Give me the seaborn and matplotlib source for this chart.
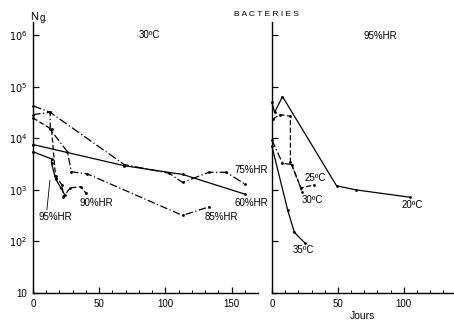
import matplotlib

matplotlib.use("Agg")
import matplotlib.pyplot as plt
import seaborn as sns
import pandas as pd

# left panel : 30 C, several humidities (x = days, y = bacteria per g)
hr95_x = [0, 14, 14, 17, 21, 24]
hr95_y = [5500, 4000, 3300, 1650, 1100, 800]
hr90_x = [0, 14, 17, 22, 23, 28, 36, 40]
hr90_y = [25000, 15000, 1850, 1250, 720, 1100, 1150, 870]
hr85_x = [0, 13, 13, 26, 29, 41, 113, 133]
hr85_y = [29000, 32000, 15000, 5500, 2250, 2050, 320, 470]
hr75_x = [0, 13, 69, 103, 113, 133, 146, 160]
hr75_y = [43000, 32000, 3100, 2100, 1400, 2200, 2200, 1300]
hr60_x = [0, 69, 113, 160]
hr60_y = [7600, 2950, 2000, 830]

# right panel : 95 %HR, several temperatures
t20_x = [0, 2, 8, 49, 64, 105]
t20_y = [50000, 32000, 65000, 1200, 1000, 720]
t25_x = [1, 6, 14, 14, 22, 32]
t25_y = [24000, 29000, 27000, 3500, 1100, 1250]
t30_x = [0, 8, 15, 23]
t30_y = [9300, 3300, 3100, 900]
t35_x = [0, 12, 17, 25]
t35_y = [7000, 400, 150, 93]

left_ticks = [0, 50, 100, 150]
right_ticks = [0, 50, 100]
y_ticks = [10, 100, 1000, 10000, 100000, 1000000]
y_labels = ["10", "$10^2$", "$10^3$", "$10^4$", "$10^5$", "$10^6$"]

sns.set_style("ticks")
plt.rcParams["font.family"] = ["Liberation Sans", "DejaVu Sans"]
plt.rcParams["font.size"] = 6.5
for k in ["text.color", "axes.edgecolor", "axes.labelcolor", "xtick.color", "ytick.color"]:
    plt.rcParams[k] = "black"

fig = plt.figure(figsize=(4.54, 3.20), dpi=100)
ax1 = fig.add_axes([0.0727, 0.0844, 0.4956, 0.847])
ax2 = fig.add_axes([0.599, 0.0844, 0.401, 0.847])


def draw(ax, x, y, ls):
    df = pd.DataFrame({"x": x, "y": y})
    sns.lineplot(data=df, x="x", y="y", ax=ax, color="black", lw=0.9,
                 estimator=None, sort=False, marker="o", markersize=2,
                 markeredgewidth=0, linestyle=ls, clip_on=False)


draw(ax1, hr95_x, hr95_y, "-")
draw(ax1, hr90_x, hr90_y, (0, (4, 2)))
draw(ax1, hr85_x, hr85_y, (0, (6, 2, 1, 2)))
draw(ax1, hr75_x, hr75_y, (0, (7, 2, 1, 2)))
draw(ax1, hr60_x, hr60_y, "-")

draw(ax2, t20_x, t20_y, "-")
draw(ax2, t25_x, t25_y, (0, (4, 2)))
draw(ax2, t30_x, t30_y, (0, (6, 2, 1, 2)))
draw(ax2, t35_x, t35_y, "-")

for ax, xmax, xt in [(ax1, 170, left_ticks), (ax2, 138, right_ticks)]:
    ax.set_yscale("log")
    ax.set_ylim(10, 10 ** 6.26)
    ax.set_xlim(0, xmax)
    ax.set_xticks(xt)
    ax.set_xticks(range(0, xmax, 10), minor=True)
    ax.set_yticks(y_ticks)
    ax.yaxis.set_minor_locator(matplotlib.ticker.NullLocator())
    ax.tick_params(direction="in", length=4, width=0.9, pad=4, labelsize=7)
    ax.tick_params(which="minor", direction="in", length=2, width=0.8)
    ax.set_xlabel("")
    ax.set_ylabel("")
    for s in ["top", "right"]:
        ax.spines[s].set_visible(False)
    for s in ["left", "bottom"]:
        ax.spines[s].set_linewidth(1.0)
    ax.patch.set_visible(False)

ax1.set_yticklabels(y_labels)
ax2.set_yticklabels([])
ax2.set_xlabel("Jours", fontsize=7.5, labelpad=2)

# labels on curves
ax1.text(88, 1.02e6, "30ºC", ha="center", va="center", fontsize=7)
ax1.text(165, 2450, "75%HR", ha="center", va="center", fontsize=7)
ax1.text(165, 560, "60%HR", ha="center", va="center", fontsize=7)
ax1.text(142, 300, "85%HR", ha="center", va="center", fontsize=7)
ax1.text(47.5, 560, "90%HR", ha="center", va="center", fontsize=7)
ax1.text(16.6, 300, "95%HR", ha="center", va="center", fontsize=7)
ax1.plot([10.5, 12.8], [410, 1550], color="black", lw=0.6)

ax2.text(82, 9.8e5, "95%HR", ha="center", va="center", fontsize=7)
ax2.text(32.6, 1700, "25ºC", ha="center", va="center", fontsize=7)
ax2.text(30.3, 650, "30ºC", ha="center", va="center", fontsize=7)
ax2.text(106, 510, "20ºC", ha="center", va="center", fontsize=7)
ax2.text(23.5, 68, "35ºC", ha="center", va="center", fontsize=7)

fig.text(0.586, 0.956, "B A C T E R I E S", ha="center", va="center", fontsize=6)
fig.text(0.066, 0.947, "N", ha="left", va="center", fontsize=8)
fig.text(0.088, 0.944, "g.", ha="left", va="center", fontsize=7)

fig.savefig("out.png", dpi=100)
plt.close(fig)
